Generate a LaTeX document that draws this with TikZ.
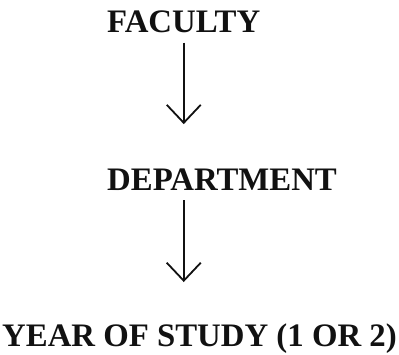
\documentclass[tikz,border=0pt]{standalone}
\usepackage{fontspec}
\setmainfont{Liberation Serif}
\usetikzlibrary{positioning, calc, arrows.meta}
\definecolor{Ink}{HTML}{111111}
\tikzset{
    level/.style={inner sep=0pt, text=Ink, font=\bfseries\fontsize{32.8}{38}\selectfont},
    arrow/.style={-{Straight Barb[length=18pt, width=34pt, line width=1.8pt]}, line width=1.6pt, color=Ink},
}
\begin{document}
\begin{tikzpicture}[x=1pt, y=1pt]
    \useasboundingbox (0,0) rectangle (399,-355);

    % --- Livelli ---
    \node[level, anchor=base west] (faculty) at (107,-33) {FACULTY};
    \node[level, anchor=base west] (department) at (107,-191) {DEPARTMENT};
    \node[level, anchor=base] (year) at (199.5,-347) {YEAR OF STUDY (1 OR 2)};

    % --- Frecce ---
    \draw[arrow] ($(faculty.south)+(0,-9)$) -- ($(faculty.south |- department.north)+(0,45)$);
    \draw[arrow] ($(faculty.south |- department.south)+(0,-9)$) -- ($(faculty.south |- year.north)+(0,42)$);
\end{tikzpicture}
\end{document}
